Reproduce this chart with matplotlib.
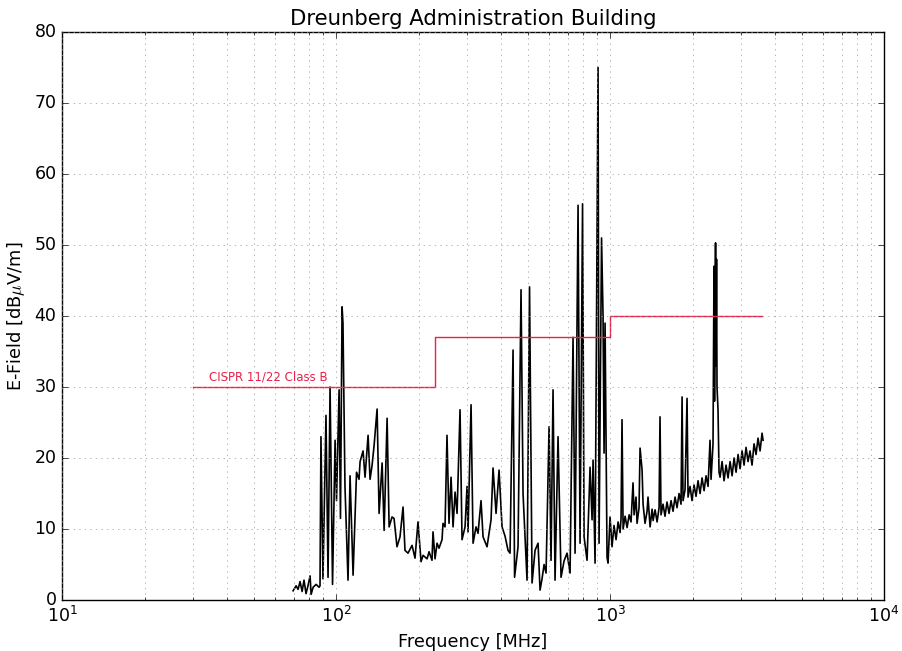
import matplotlib
matplotlib.use('Agg')
import matplotlib.pyplot as plt

plt.style.use('classic')

freq = [69.7, 71.5, 72.7, 73.9, 75.2, 76.4, 77.7, 79.0, 80.4, 81.1, 82.5, 84.6, 86.7, 87.4,
        88.1, 89.6, 91.9, 93.5, 95.1, 97.1, 99.2, 100.4, 102.6, 103.8, 105.2, 106.0, 107.8,
        110.6, 112.5, 115.4, 118.8,
        121.3, 122.4, 125.5, 127.6, 130.9, 133.1, 135.4, 137.7, 141.2, 143.6, 147.3, 149.8,
        153.6, 156.2, 160.1, 162.8, 166.9, 171.2, 175.6, 178.5, 183.1, 189.4, 194.2, 199.1,
        204.3, 207.8, 214.9, 218.5, 224.0, 225.9, 229.8, 233.7, 237.6, 243.7, 245.7, 249.9,
        254.1, 258.4, 262.9, 267.3, 271.9, 276.5, 283.5, 288.3, 295.7, 300.7, 303.2, 311.0,
        316.3, 324.3, 329.8, 338.2, 344.0, 355.7, 367.9, 374.1, 383.7, 393.5, 403.5, 413.8,
        424.4,
        431.6, 442.6, 448.3, 461.6, 473.3, 481.4, 497.8, 508.4, 519.3, 532.5, 546.1, 555.4,
        564.8, 574.4, 584.1, 599.1, 609.1, 619.4, 629.9, 646.0, 662.5, 679.5, 696.8, 714.6,
        732.8, 745.3, 764.3, 777.3, 793.8, 803.9, 824.4, 845.4, 859.8, 867.0, 881.7, 904.2,
        911.8, 931.2, 942.9, 951.0, 959.0, 975.2, 983.4, 1000, 1017,
        1034, 1052, 1070, 1088, 1097, 1106, 1116, 1135, 1154, 1174, 1193, 1213, 1224, 1244,
        1255, 1276, 1287, 1309, 1320, 1342, 1365, 1376, 1400, 1424, 1436, 1460, 1485, 1510,
        1522, 1535, 1561, 1587, 1614, 1642, 1670, 1698, 1727, 1756, 1786, 1816, 1832, 1847,
        1878, 1910, 1926, 1959, 1992, 2026, 2060, 2095, 2131, 2167, 2204, 2241, 2279, 2317,
        2337, 2376, 2396, 2406, 2427, 2437, 2447, 2457, 2478, 2499, 2521, 2564, 2607, 2651,
        2696, 2742, 2789, 2836, 2884, 2933, 2982, 3033, 3084, 3136, 3189, 3243, 3298, 3354,
        3411, 3468, 3528, 3588, 3618]
level = [1.3, 2.0, 1.5, 2.6, 1.2, 2.8, 0.9, 2.0, 3.4, 0.8, 1.8, 2.2, 1.8, 2.0,
         23.0, 3.0, 26.0, 3.2, 30.0, 2.2, 22.5, 14.0, 29.6, 11.5, 41.3, 39.0, 16.0,
         2.8, 17.5, 3.5, 18.0,
         17.0, 19.5, 21.0, 17.3, 23.2, 17.0, 19.0, 21.8, 26.9, 12.2, 19.3, 9.8,
         25.6, 10.3, 11.7, 11.5, 7.5, 8.9, 13.1, 7.0, 6.6, 7.7, 5.9, 11.0,
         5.4, 6.3, 5.8, 6.8, 5.6, 9.6, 5.8, 8.0, 7.3, 8.5, 10.8, 10.3,
         23.2, 10.8, 17.3, 10.3, 15.2, 12.2, 26.8, 8.5, 10.3, 16.0, 9.6, 27.5,
         8.0, 10.3, 9.4, 14.0, 8.9, 7.5, 11.3, 18.6, 12.2, 18.3, 10.3, 9.0,
         7.0,
         6.6, 35.2, 3.2, 7.5, 43.7, 15.0, 2.8, 44.1, 2.4, 7.0, 8.0, 1.4,
         3.0, 5.0, 3.8, 24.4, 5.6, 29.6, 2.8, 23.0, 3.2, 5.5, 6.6, 3.8,
         37.0, 6.6, 55.6, 8.0, 55.8, 8.9, 5.6, 18.7, 11.3, 19.7, 5.2, 75.0,
         8.0, 51.0, 40.0, 20.7, 39.0, 6.0, 5.2, 11.7, 7.5,
         10.5, 8.5, 11.0, 9.5, 11.5, 25.4, 10.0, 11.8, 10.2, 12.0, 11.0, 16.5, 12.0, 14.5,
         10.8, 13.0, 21.4, 18.3, 13.5, 10.8, 12.5, 14.5, 10.3, 12.8, 11.2, 12.7, 11.0, 13.0,
         25.8, 12.0, 13.5, 11.8, 13.8, 12.2, 14.0, 12.5, 14.5, 13.0, 15.0, 13.5, 28.6, 14.0,
         15.5, 28.4, 14.5, 16.0, 14.0, 16.2, 14.6, 16.8, 15.0, 17.2, 15.4, 17.5, 16.0, 22.5,
         17.0, 22.0, 47.0, 28.0, 50.3, 33.0, 48.0, 30.0, 26.8, 18.0, 17.3, 19.5, 16.8, 19.0,
         17.2, 19.5, 17.5, 20.0, 18.0, 20.5, 18.5, 21.0, 19.0, 21.5, 19.5, 21.0, 19.0, 22.0,
         20.5, 22.8, 21.0, 23.5, 22.5]

# CISPR 11/22 class B limit
limit_freq = [30, 230, 230, 1000, 1000, 3600]
limit_level = [30, 30, 37, 37, 40, 40]
limit_color = '#e8204a'

fig = plt.figure(figsize=(9.03, 6.51), dpi=100, facecolor='white')
ax = fig.add_axes([0.0687, 0.0783, 0.9103, 0.8725])

ax.semilogx(freq, level, color='black', linewidth=1.2)
ax.semilogx(limit_freq, limit_level, color=limit_color, linewidth=1.0)
ax.text(34.5, 31.4, 'CISPR 11/22 Class B', color=limit_color, fontsize=8.5,
        va='center', ha='left')

ax.set_xlim(10, 10000)
ax.set_ylim(0, 80)
ax.grid(True, which='both', color='0.6', linestyle=':')
ax.tick_params(labelsize=12.5)

plt.title('Dreunberg Administration Building', fontsize=15.3)
plt.xlabel('Frequency [MHz]', fontsize=12.8)
plt.ylabel(r'E-Field [dB$\mu$V/m]', fontsize=12.8)

fig.savefig('out.png', dpi=100, facecolor='white')
